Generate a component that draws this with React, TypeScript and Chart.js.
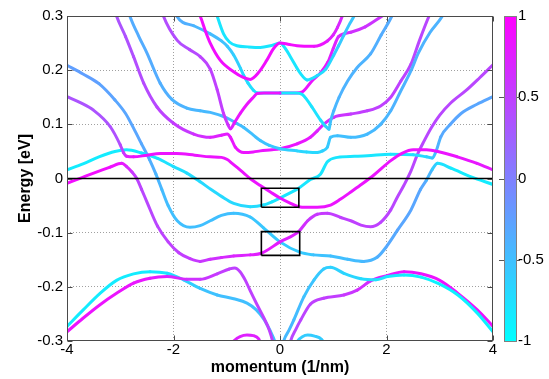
import { useEffect, useRef } from 'react';
import { Chart, registerables } from 'chart.js';

Chart.register(...registerables);

type Pt = [number, number, number]; // momentum, energy, spin

const xTicks = [-4, -2, 0, 2, 4];
const xTickLabels = ['-4', '-2', '0', '2', '4'];
const yTicks = [-0.3, -0.2, -0.1, 0, 0.1, 0.2, 0.3];
const yTickLabels = ['-0.3', '-0.2', '-0.1', '0', '0.1', '0.2', '0.3'];
const cbTicks = [-1, -0.5, 0, 0.5, 1];
const cbTickLabels = ['-1', '-0.5', '0', '0.5', '1'];

const zeroLine: [number, number][] = [[-4, 0], [4, 0]];
// [kMin, kMax, eMin, eMax]
const box1 = [-0.35, 0.354, -0.053, -0.018];
const box2 = [-0.35, 0.37, -0.142, -0.098];

const bandMagTop: Pt[] = [[-1.56,.31,.9],[-1.5,.3,.9],[-1.4,.272,.9],[-1.31,.25,.9],[-1.12,.218,.9],[-.87,.197,.9],[-.7,.187,.9],[-.56,.183,.9],[-.4,.196,.9],[-.25,.218,.9],[-.12,.24,.9],[0,.25,.9],[.15,.248,.9],[.32,.245,.9],[.64,.244,.9],[.89,.254,.8],[1.0,.265,.75],[1.08,.279,.7],[1.17,.3,.7],[1.2,.31,.7]];
const bandCyanTop: Pt[] = [[-1.21,.31,-.8],[-1.18,.3,-.8],[-1.06,.267,-.8],[-.95,.252,-.8],[-.81,.245,-.8],[-.6,.243,-.8],[-.37,.242,-.8],[-.18,.245,-.8],[0,.25,-.8],[.1,.24,-.8],[.2,.224,-.8],[.39,.193,-.8],[.51,.182,-.8],[.7,.19,-.75],[.86,.202,-.7],[1.01,.228,-.65],[1.1,.245,-.6],[1.2,.265,-.55],[1.3,.284,-.55],[1.39,.3,-.55],[1.43,.31,-.55]];
const bandV1L: Pt[] = [[-2.22,.31,.4],[-2.19,.3,.4],[-1.93,.255,.4],[-1.7,.238,.4],[-1.5,.225,.45],[-1.31,.202,.5],[-1.18,.164,.5],[-1.06,.12,.55],[-.98,.1,.6],[-.93,.092,.7],[-.85,.104,.8],[-.74,.121,.85],[-.62,.137,.85],[-.5,.15,.85],[-.43,.157,.85],[-.3,.158,.85],[0,.158,.85]];
const bandV1R: Pt[] = [[0,.158,.85],[.3,.158,.85],[.42,.16,.85],[.6,.18,.85],[.76,.195,.85],[.9,.215,.8],[1.0,.24,.75],[1.1,.262,.7],[1.33,.27,.65],[1.6,.28,.6],[1.92,.3,.6],[1.97,.303,.6]];
const bandV2L: Pt[] = [[-1.97,.31,-.35],[-1.94,.3,-.35],[-1.62,.282,-.4],[-1.31,.267,-.45],[-1.1,.254,-.5],[-.99,.244,-.55],[-.87,.228,-.6],[-.74,.203,-.65],[-.68,.19,-.7],[-.6,.176,-.75],[-.5,.163,-.75],[-.42,.158,-.8],[0,.158,-.8]];
const bandV2R: Pt[] = [[0,.158,-.8],[.3,.158,-.8],[.42,.155,-.8],[.5,.146,-.8],[.6,.132,-.8],[.76,.108,-.75],[.86,.096,-.7],[.92,.091,-.6],[.95,.106,-.5],[1.01,.125,-.45],[1.11,.15,-.4],[1.27,.18,-.4],[1.45,.205,-.4],[1.7,.23,-.4],[1.9,.265,-.35],[2.1,.3,-.35],[2.14,.31,-.35]];
const bandX1: Pt[] = [[-2.85,.31,-.35],[-2.82,.3,-.35],[-2.65,.262,-.35],[-2.5,.232,-.35],[-2.25,.176,-.35],[-2.03,.146,-.4],[-1.75,.13,-.4],[-1.5,.125,-.45],[-1.31,.122,-.45],[-1.0,.112,-.45],[-.8,.101,-.45],[-.68,.094,-.5],[-.5,.08,-.5],[-.37,.07,-.5],[-.2,.061,-.55],[0,.055,-.6],[.32,.051,-.65],[.5,.049,-.7],[.7,.048,-.7],[.8,.051,-.65],[.89,.058,-.6],[.95,.076,-.55],[1.08,.079,-.5],[1.33,.076,-.5],[1.64,.082,-.45],[1.89,.1,-.45],[2.08,.125,-.4],[2.27,.162,-.4],[2.46,.199,-.4],[2.6,.232,-.4],[2.82,.27,-.4],[3.05,.3,-.4],[3.1,.31,-.4]];
const bandX2: Pt[] = [[-3.1,.31,.35],[-3.07,.3,.35],[-2.9,.262,.35],[-2.75,.225,.4],[-2.56,.176,.4],[-2.31,.132,.45],[-2.0,.102,.5],[-1.62,.082,.6],[-1.31,.076,.7],[-1.1,.08,.8],[-.99,.082,.8],[-.93,.076,.8],[-.84,.058,.85],[-.68,.048,.85],[-.5,.049,.85],[-.37,.051,.85],[-.15,.053,.85],[0,.055,.85],[.32,.064,.85],[.57,.076,.8],[.7,.088,.75],[.82,.1,.7],[1.01,.113,.65],[1.33,.119,.55],[1.64,.125,.5],[1.89,.134,.5],[2.08,.15,.5],[2.27,.18,.5],[2.46,.211,.45],[2.62,.255,.45],[2.8,.3,.45],[2.85,.31,.45]];
const bandC1: Pt[] = [[-4,.016,-.85],[-3.7,.027,-.85],[-3.4,.04,-.85],[-3.1,.05,-.85],[-2.88,.053,-.85],[-2.6,.047,-.85],[-2.3,.037,-.8],[-2.0,.022,-.75],[-1.75,.01,-.75],[-1.5,-.006,-.7],[-1.3,-.02,-.7],[-1.1,-.033,-.7],[-.87,-.046,-.7],[-.56,-.052,-.7],[-.31,-.049,-.75],[-.15,-.043,-.8],[0,-.036,-.8],[.18,-.027,-.8],[.35,-.018,-.8],[.57,-.002,-.8],[.76,.008,-.8],[.89,.031,-.8],[1.08,.039,-.8],[1.4,.041,-.8],[1.64,.042,-.8],[2.08,.045,-.8],[2.5,.044,-.75],[2.75,.04,-.7],[2.86,.038,-.6],[2.93,.05,-.45],[3.02,.077,-.35],[3.2,.1,-.3],[3.4,.12,-.3],[3.7,.137,-.3],[4,.151,-.3]];
const bandC2: Pt[] = [[-4,.151,.35],[-3.75,.14,.35],[-3.5,.126,.35],[-3.19,.096,.35],[-3.0,.062,.4],[-2.94,.048,.5],[-2.88,.041,.7],[-2.75,.04,.85],[-2.5,.043,.85],[-2.25,.046,.85],[-1.94,.046,.85],[-1.6,.043,.85],[-1.31,.04,.85],[-1.1,.039,.85],[-.99,.035,.85],[-.9,.028,.85],[-.8,.02,.85],[-.68,.01,.85],[-.55,-.001,.85],[-.37,-.013,.85],[-.18,-.025,.85],[0,-.036,.85],[.18,-.045,.85],[.35,-.052,.85],[.5,-.053,.85],[.7,-.053,.85],[.95,-.049,.85],[1.14,-.038,.85],[1.3,-.027,.85],[1.5,-.013,.85],[1.77,.007,.85],[2.08,.033,.85],[2.3,.047,.85],[2.5,.053,.85],[2.75,.053,.85],[3.0,.049,.85],[3.33,.04,.85],[3.7,.028,.8],[4,.016,.8]];
const bandM1: Pt[] = [[-4,.209,-.25],[-3.7,.193,-.25],[-3.4,.175,-.25],[-3.1,.145,-.3],[-2.9,.12,-.3],[-2.75,.093,-.3],[-2.6,.064,-.3],[-2.45,.035,-.35],[-2.33,.008,-.4],[-2.22,-.02,-.45],[-2.1,-.05,-.5],[-1.93,-.078,-.5],[-1.69,-.09,-.5],[-1.5,-.087,-.5],[-1.31,-.078,-.5],[-1.1,-.068,-.5],[-.87,-.064,-.5],[-.56,-.071,-.55],[-.31,-.091,-.55],[0,-.117,-.6],[.37,-.136,-.6],[.63,-.141,-.55],[.95,-.143,-.5],[1.27,-.149,-.5],[1.57,-.153,-.45],[1.83,-.145,-.4],[1.99,-.127,-.35],[2.21,-.095,-.3],[2.46,-.058,-.3],[2.64,-.02,-.3],[2.75,-.003,-.35],[2.86,.017,-.5],[2.96,.028,-.7],[3.21,.019,-.85],[3.59,.003,-.85],[4,-.011,-.85]];
const bandM2: Pt[] = [[-4,-.009,.9],[-3.5,.01,.9],[-3.19,.021,.9],[-2.97,.028,.85],[-2.88,.022,.75],[-2.78,.012,.6],[-2.69,0,.5],[-2.6,-.02,.45],[-2.5,-.043,.45],[-2.3,-.088,.45],[-2.1,-.117,.5],[-1.9,-.137,.5],[-1.69,-.148,.55],[-1.5,-.153,.55],[-1.31,-.149,.6],[-1.1,-.146,.65],[-.87,-.143,.7],[-.56,-.141,.75],[-.35,-.138,.8],[0,-.117,.8],[.35,-.098,.7],[.52,-.078,.6],[.7,-.066,.55],[.89,-.064,.55],[1.14,-.072,.5],[1.33,-.078,.5],[1.52,-.086,.5],[1.7,-.089,.5],[1.89,-.081,.5],[2.08,-.058,.45],[2.2,-.035,.45],[2.33,-.012,.45],[2.46,.014,.45],[2.58,.044,.45],[2.7,.068,.45],[2.85,.095,.45],[3.0,.117,.45],[3.2,.139,.45],[3.5,.163,.45],[3.75,.186,.45],[4,.21,.45]];
const bandB1: Pt[] = [[-4,-.273,-.85],[-3.7,-.243,-.85],[-3.38,-.212,-.85],[-3.07,-.188,-.85],[-2.75,-.176,-.85],[-2.44,-.172,-.85],[-2.12,-.175,-.8],[-1.81,-.187,-.7],[-1.5,-.203,-.55],[-1.18,-.215,-.5],[-.87,-.222,-.5],[-.62,-.23,-.5],[-.45,-.242,-.5],[-.3,-.26,-.5],[-.18,-.282,-.5],[-.1,-.3,-.5],[-.07,-.31,-.5]];
const bandB2: Pt[] = [[-4,-.283,.85],[-3.7,-.258,.85],[-3.38,-.233,.85],[-3.07,-.212,.85],[-2.75,-.193,.85],[-2.44,-.184,.8],[-2.12,-.181,.75],[-1.75,-.186,.65],[-1.5,-.186,.6],[-1.18,-.176,.55],[-.95,-.167,.5],[-.85,-.165,.5],[-.75,-.172,.5],[-.65,-.188,.5],[-.56,-.207,.5],[-.43,-.233,.5],[-.3,-.258,.5],[-.2,-.28,.5],[-.14,-.3,.5],[-.12,-.31,.5]];
const bandB3: Pt[] = [[.18,-.31,.45],[.2,-.3,.45],[.3,-.278,.45],[.39,-.261,.45],[.57,-.232,.5],[.82,-.221,.5],[1.2,-.215,.55],[1.45,-.206,.6],[1.7,-.189,.7],[2.02,-.179,.8],[2.33,-.172,.85],[2.65,-.176,.85],[3.0,-.188,.85],[3.34,-.212,.85],[3.71,-.243,.85],[4,-.273,.85]];
const bandB4: Pt[] = [[.05,-.31,-.45],[.07,-.3,-.45],[.17,-.28,-.45],[.26,-.261,-.45],[.45,-.218,-.5],[.64,-.187,-.55],[.82,-.167,-.6],[.95,-.164,-.65],[1.2,-.175,-.65],[1.52,-.185,-.7],[1.8,-.187,-.75],[2.02,-.181,-.8],[2.33,-.178,-.85],[2.65,-.182,-.9],[2.98,-.194,-.9],[3.34,-.215,-.9],[3.71,-.249,-.9],[4,-.283,-.9]];
const bandArcL: Pt[] = [[-.95,-.31,.75],[-.87,-.3,.75],[-.75,-.292,.75],[-.62,-.289,.75],[-.5,-.29,.75],[-.4,-.296,.75],[-.34,-.31,.75]];
const bandArcR: Pt[] = [[.28,-.31,-.6],[.33,-.3,-.6],[.42,-.292,-.6],[.52,-.289,-.6],[.65,-.291,-.6],[.78,-.297,-.6],[.86,-.31,-.6]];

const bands: Pt[][] = [bandB1, bandB2, bandB3, bandB4, bandArcL, bandArcR, bandM1, bandM2, bandC1, bandC2, bandX2, bandX1, bandV1R, bandV2R, bandV2L, bandV1L, bandCyanTop, bandMagTop];

function cool(s: number): string {
  const t = Math.max(0, Math.min(1, (s + 1) / 2));
  return `rgb(${Math.round(255 * t)},${Math.round(255 * (1 - t))},255)`;
}

const FONT = '"Liberation Sans", Arial, Helvetica, sans-serif';

const framePlugin = {
  id: 'frameAndColorbar',
  afterDraw(chart: any) {
    const { ctx, chartArea: a, scales } = chart;
    const xs = scales.x, ys = scales.y, cs = scales.cb;
    ctx.save();
    // colorbar
    const cbL = Math.round(a.right) + 11;
    const cbW = 13;
    const yT = cs.getPixelForValue(1);
    const yB = cs.getPixelForValue(-1);
    const g = ctx.createLinearGradient(0, yB, 0, yT);
    g.addColorStop(0, cool(-1));
    g.addColorStop(0.5, cool(0));
    g.addColorStop(1, cool(1));
    ctx.fillStyle = g;
    ctx.fillRect(cbL, yT, cbW, yB - yT);
    ctx.strokeStyle = '#808080';
    ctx.lineWidth = 1;
    ctx.strokeRect(cbL + 0.5, Math.round(yT) + 0.5, cbW - 1, Math.round(yB - yT));
    ctx.strokeStyle = '#555';
    ctx.beginPath();
    for (const v of cbTicks) {
      if (Math.abs(v) > 0.99) continue;
      const py = Math.round(cs.getPixelForValue(v)) + 0.5;
      ctx.moveTo(cbL - 5, py); ctx.lineTo(cbL, py);
      ctx.moveTo(cbL + cbW, py); ctx.lineTo(cbL + cbW + 3, py);
    }
    ctx.stroke();
    // frame
    const L = Math.round(a.left) + 0.5, R = Math.round(a.right) - 0.5;
    const T = Math.round(a.top) + 0.5, B = Math.round(a.bottom) - 0.5;
    ctx.strokeStyle = '#4a4a4a';
    ctx.lineWidth = 1;
    ctx.strokeRect(L, T, R - L, B - T);
    // inward ticks
    ctx.beginPath();
    for (const v of xTicks) {
      const px = Math.round(xs.getPixelForValue(v)) + 0.5;
      ctx.moveTo(px, B); ctx.lineTo(px, B - 5);
      ctx.moveTo(px, T); ctx.lineTo(px, T + 5);
    }
    for (const v of yTicks) {
      const py = Math.round(ys.getPixelForValue(v)) + 0.5;
      ctx.moveTo(L, py); ctx.lineTo(L + 5, py);
      ctx.moveTo(R, py); ctx.lineTo(R - 5, py);
    }
    ctx.stroke();
    ctx.restore();
  },
};

export default function App() {
  const ref = useRef<HTMLCanvasElement | null>(null);
  useEffect(() => {
    if (!ref.current) return;
    const blackSets = [
      { data: zeroLine.map(([x, y]) => ({ x, y })), w: 1.6 },
      ...[box1, box2].map((b) => ({
        data: [
          { x: b[0], y: b[2] }, { x: b[1], y: b[2] }, { x: b[1], y: b[3] },
          { x: b[0], y: b[3] }, { x: b[0], y: b[2] },
        ],
        w: 1.6,
      })),
    ].map((d) => ({
      data: d.data,
      borderColor: '#000',
      borderWidth: d.w,
      pointRadius: 0,
      tension: 0,
      fill: false,
      clip: 0,
    }));
    const bandSets = bands
      .slice()
      .reverse()
      .map((band) => ({
        data: band.map((p) => ({ x: p[0], y: p[1] })),
        borderWidth: 3,
        borderColor: cool(band[0][2]),
        segment: {
          borderColor: (c: any) => cool((band[c.p0DataIndex][2] + band[c.p1DataIndex][2]) / 2),
        },
        pointRadius: 0,
        fill: false,
        cubicInterpolationMode: 'monotone' as const,
        borderCapStyle: 'round' as const,
        clip: 0,
      }));

    const chart = new Chart(ref.current, {
      type: 'line',
      data: { datasets: [...blackSets, ...bandSets] as any },
      options: {
        animation: false,
        responsive: true,
        maintainAspectRatio: false,
        events: [],
        layout: { padding: { top: 16, left: 0, right: 0, bottom: 0 } },
        plugins: { legend: { display: false }, tooltip: { enabled: false } },
        scales: {
          x: {
            type: 'linear',
            min: -4,
            max: 4,
            afterBuildTicks: (s: any) => { s.ticks = xTicks.map((v) => ({ value: v })); },
            afterFit: (s: any) => { s.height = 38; },
            ticks: {
              callback: (_v: any, i: number) => xTickLabels[i],
              color: '#000',
              padding: 0,
              maxRotation: 0,
              font: { family: FONT, size: 15 },
            },
            grid: {
              drawTicks: false,
              color: (c: any) => (c.tick && Math.abs(c.tick.value) > 3.99 ? 'rgba(0,0,0,0)' : '#a0a0a0'),
              lineWidth: 1,
            },
            border: { display: false, dash: [1, 2] },
            title: {
              display: true,
              text: 'momentum (1/nm)',
              color: '#000',
              font: { family: FONT, size: 16, weight: 'bold' },
              padding: { top: 0, bottom: 2 },
            },
          },
          y: {
            type: 'linear',
            min: -0.3,
            max: 0.3,
            afterBuildTicks: (s: any) => { s.ticks = yTicks.map((v) => ({ value: v })); },
            afterFit: (s: any) => { s.width = 67; },
            ticks: {
              callback: (_v: any, i: number) => yTickLabels[i],
              color: '#000',
              padding: 4,
              font: { family: FONT, size: 15 },
            },
            grid: {
              drawTicks: false,
              color: (c: any) => (c.tick && (Math.abs(c.tick.value) > 0.299 || Math.abs(c.tick.value) < 1e-6) ? 'rgba(0,0,0,0)' : '#a0a0a0'),
              lineWidth: 1,
            },
            border: { display: false, dash: [1, 2] },
            title: {
              display: true,
              text: 'Energy [eV]',
              color: '#000',
              font: { family: FONT, size: 16, weight: 'bold' },
              padding: { top: 16, bottom: 0 },
            },
          },
          cb: {
            type: 'linear',
            position: 'right',
            min: -1,
            max: 1,
            afterBuildTicks: (s: any) => { s.ticks = cbTicks.map((v) => ({ value: v })); },
            afterFit: (s: any) => { s.width = 56; },
            ticks: {
              callback: (_v: any, i: number) => cbTickLabels[i],
              color: '#000',
              padding: 1,
              font: { family: FONT, size: 15 },
            },
            grid: {
              display: true,
              drawOnChartArea: false,
              drawTicks: true,
              tickLength: 24,
              color: 'rgba(0,0,0,0)',
            },
            border: { display: false },
          },
        },
      },
      plugins: [framePlugin],
    });
    return () => chart.destroy();
  }, []);

  return (
    <div style={{ position: 'fixed', left: 0, top: 0, width: 549, height: 379, background: '#fff' }}>
      <canvas ref={ref} />
    </div>
  );
}
